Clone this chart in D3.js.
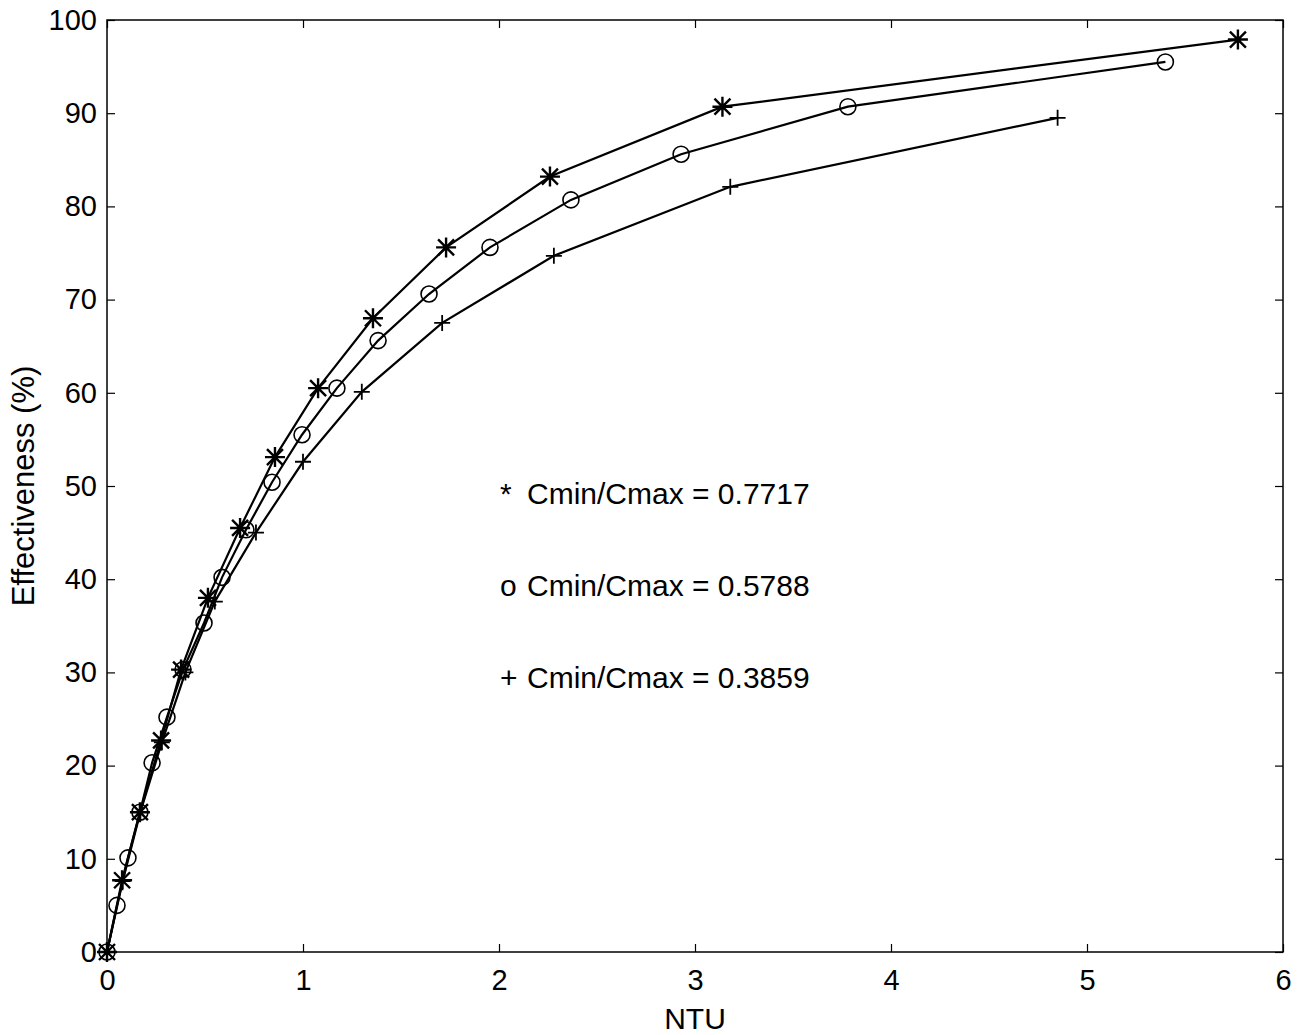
<!DOCTYPE html>
<html>
<head>
<meta charset="utf-8">
<script src="https://cdn.jsdelivr.net/npm/d3@7"></script>
<style>
  body { margin: 0; background: #fff; }
  text { font-family: "Liberation Sans", Arial, sans-serif; fill: #000; }
</style>
</head>
<body>
<svg width="1307" height="1035"></svg>
<script>
// NTU vs effectiveness, three capacity ratios
var starNtu = [0, 0.077, 0.168, 0.276, 0.378, 0.515, 0.679, 0.857, 1.077, 1.357, 1.73, 2.26, 3.14, 5.77];
var starEff = [0, 7.7, 15.0, 22.7, 30.3, 38.0, 45.5, 53.1, 60.5, 68.0, 75.6, 83.2, 90.7, 97.9];

var circNtu = [0, 0.051, 0.107, 0.168, 0.23, 0.306, 0.388, 0.495, 0.587, 0.709, 0.842, 0.995, 1.173, 1.383, 1.643, 1.954, 2.367, 2.929, 3.78, 5.40];
var circEff = [0, 5.0, 10.1, 15.0, 20.3, 25.2, 30.3, 35.3, 40.2, 45.3, 50.4, 55.5, 60.5, 65.6, 70.6, 75.6, 80.7, 85.6, 90.7, 95.5];

var plusNtu = [0, 0.08, 0.17, 0.28, 0.40, 0.55, 0.76, 1.0, 1.30, 1.71, 2.28, 3.18, 4.85];
var plusEff = [0, 7.6, 15.0, 22.5, 30.0, 37.6, 45.0, 52.6, 60.1, 67.5, 74.7, 82.1, 89.5];

var legendMarks = ["*", "o", "+"];
var legendLabels = ["Cmin/Cmax = 0.7717", "Cmin/Cmax = 0.5788", "Cmin/Cmax = 0.3859"];
var xTicks = [0, 1, 2, 3, 4, 5, 6];
var yTicks = [0, 10, 20, 30, 40, 50, 60, 70, 80, 90, 100];

var svg = d3.select("svg");

var x = d3.scaleLinear().domain([0, 6]).range([107, 1283]);
var y = d3.scaleLinear().domain([0, 100]).range([952, 20]);

function zip(a, b) { return a.map(function(v, i) { return [v, b[i]]; }); }

// frame
svg.append("rect")
    .attr("x", x(0)).attr("y", y(100))
    .attr("width", x(6) - x(0)).attr("height", y(0) - y(100))
    .attr("fill", "none").attr("stroke", "#000").attr("stroke-width", 1.5);

var xAxis = svg.append("g")
    .attr("transform", "translate(0," + y(0) + ")")
    .call(d3.axisBottom(x).tickValues(xTicks).tickFormat(d3.format("d"))
        .tickSizeInner(-8).tickSizeOuter(0).tickPadding(17));
var yAxis = svg.append("g")
    .attr("transform", "translate(" + x(0) + ",0)")
    .call(d3.axisLeft(y).tickValues(yTicks).tickSizeInner(-8).tickSizeOuter(0).tickPadding(10));
svg.append("g")
    .attr("transform", "translate(0," + y(100) + ")")
    .call(d3.axisTop(x).tickValues(xTicks).tickSizeInner(-8).tickSizeOuter(0).tickFormat(""));
svg.append("g")
    .attr("transform", "translate(" + x(6) + ",0)")
    .call(d3.axisRight(y).tickValues(yTicks).tickSizeInner(-8).tickSizeOuter(0).tickFormat(""));

svg.selectAll(".domain").remove();
svg.selectAll(".tick line").attr("stroke", "#000").attr("stroke-width", 1.2);
xAxis.selectAll("text").style("font-size", "29px").attr("font-family", null);
yAxis.selectAll("text").style("font-size", "29px").attr("font-family", null);

// axis titles
svg.append("text")
    .attr("x", x(3)).attr("y", 1029)
    .attr("text-anchor", "middle")
    .style("font-size", "30px")
    .text("NTU");
svg.append("text")
    .attr("transform", "translate(34," + y(50) + ") rotate(-90)")
    .attr("text-anchor", "middle")
    .style("font-size", "31px")
    .text("Effectiveness (%)");

var line = d3.line().x(function(d) { return x(d[0]); }).y(function(d) { return y(d[1]); });

var series = [
    { pts: zip(starNtu, starEff), mark: "star" },
    { pts: zip(circNtu, circEff), mark: "circle" },
    { pts: zip(plusNtu, plusEff), mark: "plus" }
];

series.forEach(function(s) {
    svg.append("path")
        .datum(s.pts)
        .attr("d", line)
        .attr("fill", "none")
        .attr("stroke", "#000")
        .attr("stroke-width", 2.2);

    var g = svg.append("g").selectAll("g")
        .data(s.pts).join("g")
        .attr("transform", function(d) { return "translate(" + x(d[0]) + "," + y(d[1]) + ")"; });

    if (s.mark === "circle") {
        g.append("circle").attr("r", 8)
            .attr("fill", "none").attr("stroke", "#000").attr("stroke-width", 1.6);
    } else if (s.mark === "plus") {
        g.append("path").attr("d", "M-8,0H8M0,-8V8")
            .attr("stroke", "#000").attr("stroke-width", 1.8);
    } else {
        g.append("path").attr("d", "M-10,0H10M0,-10V10M-8,-8L8,8M-8,8L8,-8")
            .attr("stroke", "#000").attr("stroke-width", 2.4);
    }
});

// legend as text block
var leg = svg.append("g").selectAll("g")
    .data(legendLabels).join("g")
    .attr("transform", function(d, i) { return "translate(0," + (504 + i * 92) + ")"; });
leg.append("text")
    .attr("x", 500)
    .style("font-size", "30px")
    .text(function(d, i) { return legendMarks[i]; });
leg.append("text")
    .attr("x", 527)
    .style("font-size", "30px")
    .text(function(d) { return d; });
</script>
</body>
</html>
